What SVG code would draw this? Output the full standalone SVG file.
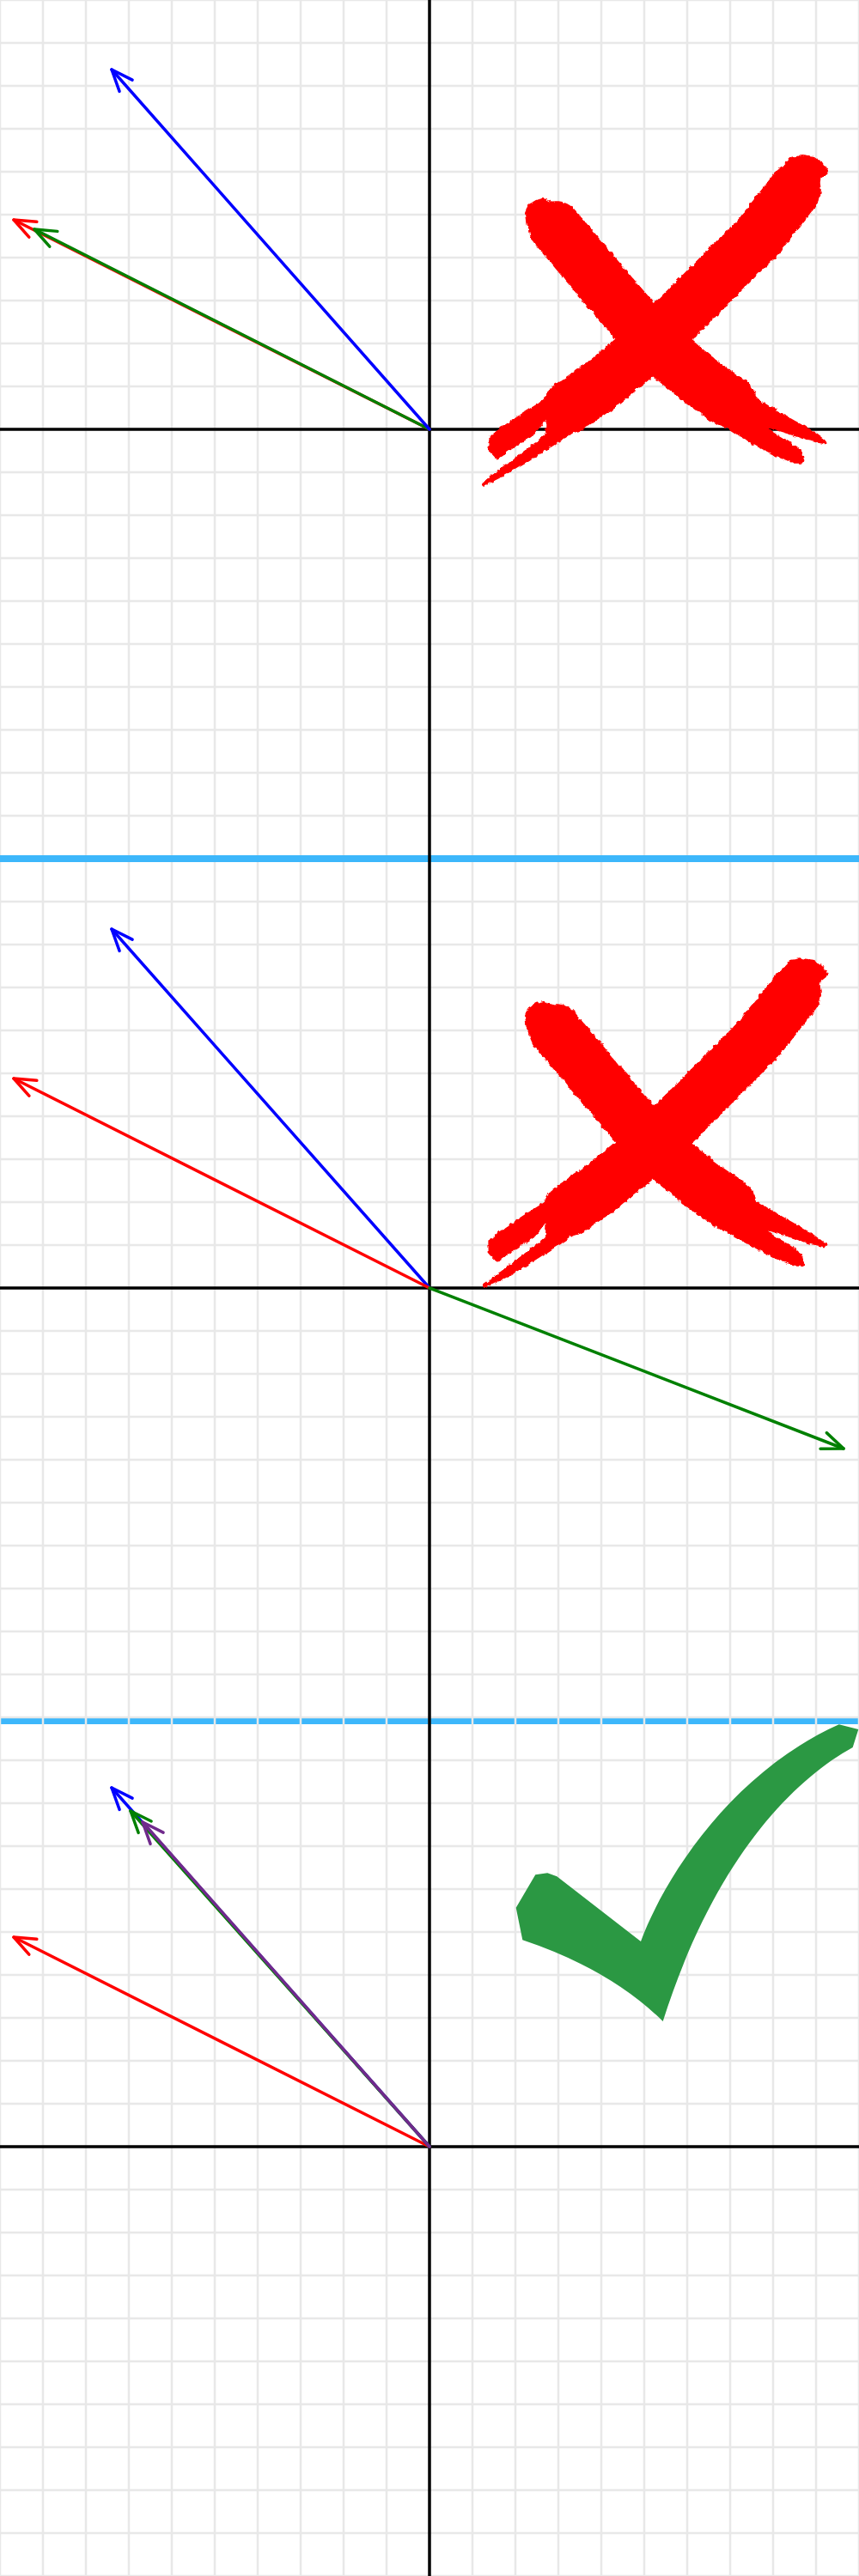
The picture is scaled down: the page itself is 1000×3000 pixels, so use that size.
<svg xmlns="http://www.w3.org/2000/svg" width="1000" height="3000" viewBox="0 0 1000 3000">
<style>
.grid{stroke:#e8e8e8;stroke-width:2.5;fill:none}
.axis{stroke:#000;stroke-width:3.5;fill:none}
.sep{fill:#3db7fb}
.vec{stroke-width:3.5;fill:none;stroke-linecap:round}
.ah{fill:none;stroke-width:3.5;stroke-linecap:round;stroke-linejoin:round}
.cross{fill:#ff0000;stroke:#ff0000;stroke-width:14;stroke-linejoin:round}
.core{fill:none;stroke:#ff0000;stroke-width:185;stroke-linecap:round;stroke-linejoin:round}
.check{fill:#2b9843}
</style>
<defs>
<filter id="rough" x="-5%" y="-5%" width="110%" height="110%">
<feTurbulence type="fractalNoise" baseFrequency="0.18" numOctaves="2" seed="3" result="n"/>
<feDisplacementMap in="SourceGraphic" in2="n" scale="5" xChannelSelector="R" yChannelSelector="G"/>
</filter>
<marker id="mRed" markerUnits="userSpaceOnUse" orient="auto" refX="0" refY="0" markerWidth="60" markerHeight="60" viewBox="-30 -30 60 60" overflow="visible"><path class="ah" stroke="#ff0000" d="M-25,-10 L0,0 L-25,10"/></marker>
<marker id="mBlue" markerUnits="userSpaceOnUse" orient="auto" refX="0" refY="0" markerWidth="60" markerHeight="60" viewBox="-30 -30 60 60" overflow="visible"><path class="ah" stroke="#0000ff" d="M-25,-10 L0,0 L-25,10"/></marker>
<marker id="mGreen" markerUnits="userSpaceOnUse" orient="auto" refX="0" refY="0" markerWidth="60" markerHeight="60" viewBox="-30 -30 60 60" overflow="visible"><path class="ah" stroke="#008000" d="M-25,-10 L0,0 L-25,10"/></marker>
<marker id="mPurple" markerUnits="userSpaceOnUse" orient="auto" refX="0" refY="0" markerWidth="60" markerHeight="60" viewBox="-30 -30 60 60" overflow="visible"><path class="ah" stroke="#702a8c" d="M-25,-10 L0,0 L-25,10"/></marker>
<g id="xmark">
<path class="cross" d="M455,270 L460,295 L490,300 L520,340 L560,400 L610,460 L660,520 L720,590 L790,660 L870,745 L950,810 L1040,880 L1120,935 L1200,985 L1280,1030 L1340,1065 L1380,1095 L1320,1082 L1250,1058 L1195,1042 L1150,1028 L1195,1065 L1250,1098 L1295,1130 L1302,1162 L1275,1162 L1215,1138 L1150,1105 L1070,1060 L1000,1015 L930,960 L860,900 L780,830 L690,750 L620,680 L560,610 L500,545 L440,475 L400,420 L370,370 L345,335 L340,295 L350,270 L375,255 L400,250 L430,265 Z"/>
<path class="cross" d="M1240,130 L1265,105 L1300,100 L1340,105 L1370,125 L1385,150 L1360,170 L1355,200 L1340,230 L1300,285 L1250,350 L1200,410 L1140,470 L1080,530 L1020,590 L960,640 L900,685 L870,745 L780,830 L700,900 L620,970 L540,1030 L470,1075 L400,1120 L330,1165 L260,1205 L190,1240 L258,1188 L325,1138 L378,1098 L412,1068 L414,995 L362,1062 L292,1108 L236,1146 L213,1122 L212,1082 L258,1046 L330,998 L410,948 L480,903 L520,870 L600,815 L690,750 L785,660 L850,590 L920,520 L990,450 L1060,380 L1120,315 L1170,255 L1210,200 L1235,160 Z"/>
<path class="core" d="M440,345 L600,535 L780,745 L950,885 L1050,955"/>
<path class="core" d="M1275,215 L1150,375 L990,535 L780,745 L600,895 L490,970"/>
</g>
</defs>
<rect x="0" y="0" width="1000" height="3000" fill="#ffffff"/>
<g id="separator-2"><rect class="sep" x="0" y="2001" width="1000" height="7"/></g>
<g id="grid">
<path class="grid" d="M0 0V3000M50 0V3000M100 0V3000M150 0V3000M200 0V3000M250 0V3000M300 0V3000M350 0V3000M400 0V3000M450 0V3000M500 0V3000M550 0V3000M600 0V3000M650 0V3000M700 0V3000M750 0V3000M800 0V3000M850 0V3000M900 0V3000M950 0V3000M1000 0V3000"/>
<path class="grid" d="M0 0H1000M0 50H1000M0 100H1000M0 150H1000M0 200H1000M0 250H1000M0 300H1000M0 350H1000M0 400H1000M0 450H1000M0 500H1000M0 550H1000M0 600H1000M0 650H1000M0 700H1000M0 750H1000M0 800H1000M0 850H1000M0 900H1000M0 950H1000M0 1000H1000M0 1050H1000M0 1100H1000M0 1150H1000M0 1200H1000M0 1250H1000M0 1300H1000M0 1350H1000M0 1400H1000M0 1450H1000M0 1500H1000M0 1550H1000M0 1600H1000M0 1650H1000M0 1700H1000M0 1750H1000M0 1800H1000M0 1850H1000M0 1900H1000M0 1950H1000M0 2000H1000M0 2050H1000M0 2100H1000M0 2150H1000M0 2200H1000M0 2250H1000M0 2300H1000M0 2350H1000M0 2400H1000M0 2450H1000M0 2500H1000M0 2550H1000M0 2600H1000M0 2650H1000M0 2700H1000M0 2750H1000M0 2800H1000M0 2850H1000M0 2900H1000M0 2950H1000M0 3000H1000"/>
</g>
<g id="separator-1"><rect class="sep" x="0" y="996" width="1000" height="8"/></g>
<g id="axes">
<path class="axis" d="M500 0V3000M0 500H1000M0 1500H1000M0 2500H1000"/>
</g>
<g id="cross-1" filter="url(#rough)"><use href="#xmark" transform="translate(500,150) scale(0.33333)"/></g>
<g id="cross-2" filter="url(#rough)"><use href="#xmark" transform="translate(500,1085) scale(0.33333)"/></g>
<g id="check">
<path class="check" d="M623.3,2183.3 L637.3,2181.3 L648.3,2185.3 L746,2261 C772,2190 850,2065 976.7,2008.3 L999.3,2014 L992.7,2035 C920,2075 830,2170 771.7,2354 Q710,2293.3 608.3,2259.3 L600.7,2221.7 Z"/>
</g>
<g id="connectors">
<line class="vec" stroke="#ff0000" x1="500" y1="500" x2="16" y2="256" marker-end="url(#mRed)"/>
<line class="vec" stroke="#008000" x1="500" y1="500" x2="40" y2="267" marker-end="url(#mGreen)"/>
<line class="vec" stroke="#0000ff" x1="500" y1="500" x2="130" y2="81" marker-end="url(#mBlue)"/>
<line class="vec" stroke="#0000ff" x1="500" y1="1500" x2="130" y2="1082" marker-end="url(#mBlue)"/>
<line class="vec" stroke="#ff0000" x1="500" y1="1500" x2="16" y2="1256" marker-end="url(#mRed)"/>
<line class="vec" stroke="#008000" x1="500" y1="1500" x2="982" y2="1687" marker-end="url(#mGreen)"/>
<line class="vec" stroke="#ff0000" x1="500" y1="2500" x2="16" y2="2256" marker-end="url(#mRed)"/>
<line class="vec" stroke="#0000ff" x1="500" y1="2500" x2="130" y2="2082" marker-end="url(#mBlue)"/>
<line class="vec" stroke="#008000" x1="500" y1="2500" x2="152" y2="2109" marker-end="url(#mGreen)"/>
<line class="vec" stroke="#702a8c" x1="500" y1="2500" x2="166" y2="2122" marker-end="url(#mPurple)"/>
</g>
</svg>
